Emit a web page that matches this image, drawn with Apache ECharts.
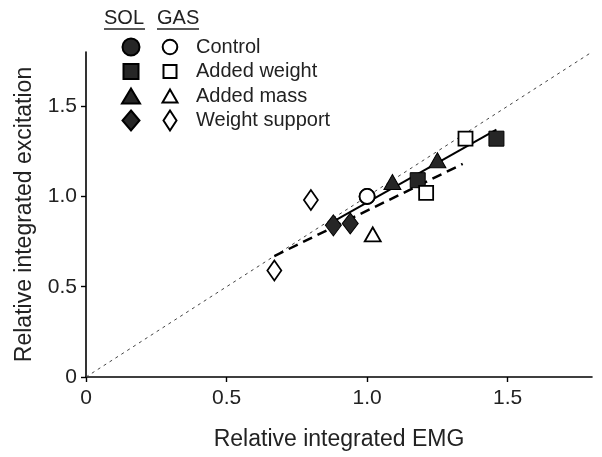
<!DOCTYPE html>
<html>
<head>
<meta charset="utf-8">
<script src="https://cdn.jsdelivr.net/npm/echarts@6/dist/echarts.min.js"></script>
<style>html,body{margin:0;padding:0;background:#fff}#c{width:602px;height:457px}</style>
</head>
<body>
<div id="c"></div>
<script>
// ---- data ----
var conditions = ['Control', 'Added weight', 'Added mass', 'Weight support'];
var solControl = [[1.00, 1.00]];
var solAddedWeight = [[1.18, 1.09], [1.46, 1.32]];
var solAddedMass = [[1.09, 1.08], [1.25, 1.20]];
var solWeightSupport = [[0.88, 0.84], [0.94, 0.85]];
var gasControl = [[1.00, 1.00]];
var gasAddedWeight = [[1.21, 1.02], [1.35, 1.32]];
var gasAddedMass = [[1.02, 0.79]];
var gasWeightSupport = [[0.80, 0.98], [0.67, 0.59]];
var solFit = [[0.89, 0.87], [1.46, 1.37]];
var gasFit = [[0.67, 0.67], [1.34, 1.18]];
var identityLine = [[0, 0], [1.8, 1.8]];
var tickValues = [0, 0.5, 1.0, 1.5];

var FONT = 'Liberation Sans, Arial, sans-serif';
var DARK = '#262626';
// legend icons drawn in a padded 20x20 box so that each keeps its own size
var B = 'path://M0,0M20,20';
var solIcons = [
  B + 'M1.5,10A8.5,8.5,0,1,1,18.5,10A8.5,8.5,0,1,1,1.5,10Z',
  B + 'M2.5,2.5L17.5,2.5L17.5,17.5L2.5,17.5Z',
  B + 'M10,2.5L19,17.5L1,17.5Z',
  B + 'M10,0L18.5,10L10,20L1.5,10Z'
];
var gasIcons = [
  B + 'M2.7,10A7.3,7.3,0,1,1,17.3,10A7.3,7.3,0,1,1,2.7,10Z',
  B + 'M3.5,3.5L16.5,3.5L16.5,16.5L3.5,16.5Z',
  B + 'M10,3.5L17.5,16.5L2.5,16.5Z',
  B + 'M10,0L16.5,10L10,20L3.5,10Z'
];

function filled(name, data, symbol, size) {
  return {
    name: 'SOL ' + name, type: 'scatter', data: data, symbol: symbol, symbolSize: size, z: 3,
    itemStyle: { color: DARK, borderColor: '#000', borderWidth: 1, opacity: 1 }
  };
}
function open(name, data, symbol, size) {
  return {
    name: 'GAS ' + name, type: 'scatter', data: data, symbol: symbol, symbolSize: size, z: 4,
    itemStyle: { color: '#fff', borderColor: '#000', borderWidth: 1.8, opacity: 1 }
  };
}

var chart = echarts.init(document.getElementById('c'));
var axisCommon = {
  type: 'value', min: 0, max: 1.8, interval: 0.5,
  splitLine: { show: false },
  axisLine: { lineStyle: { color: '#000', width: 1.6 } },
  axisTick: { show: true, inside: false, length: 5, lineStyle: { color: '#000', width: 1.4 }, customValues: tickValues },
  axisLabel: { fontFamily: FONT, fontSize: 21, color: '#222', customValues: tickValues,
    formatter: function (v) { return v === 0 ? '0' : v.toFixed(1); } },
  nameLocation: 'middle',
  nameTextStyle: { fontFamily: FONT, fontSize: 23, color: '#222' }
};

var option = {
  animation: false,
  backgroundColor: '#fff',
  grid: { left: 86, right: 10, top: 52, bottom: 80 },
  xAxis: Object.assign({}, axisCommon, { name: 'Relative integrated EMG', nameGap: 51,
    axisLabel: Object.assign({}, axisCommon.axisLabel, { margin: 11 }) }),
  yAxis: Object.assign({}, axisCommon, { name: 'Relative integrated excitation', nameGap: 50,
    axisLabel: Object.assign({}, axisCommon.axisLabel, { margin: 9 }) }),
  legend: [
    {
      orient: 'vertical', left: 115, top: 31, itemWidth: 20, itemHeight: 20, itemGap: 2.5,
      selectedMode: false, formatter: function () { return ''; },
      textStyle: { fontFamily: FONT, fontSize: 20 },
      data: conditions.map(function (c, i) { return { name: 'SOL ' + c, icon: solIcons[i] }; })
    },
    {
      orient: 'vertical', left: 154, top: 31, itemWidth: 42, itemHeight: 20, itemGap: 2.5,
      selectedMode: false,
      formatter: function (n) { return n.replace('GAS ', ''); },
      textStyle: { fontFamily: FONT, fontSize: 20, color: '#222' },
      data: conditions.map(function (c, i) { return { name: 'GAS ' + c, icon: gasIcons[i] }; })
    }
  ],
  graphic: [
    { type: 'text', left: 104, top: 8, style: { text: 'SOL', fontFamily: FONT, fontSize: 20, fill: '#222' } },
    { type: 'line', shape: { x1: 104, y1: 29, x2: 145, y2: 29 }, style: { stroke: '#222', lineWidth: 1.4 } },
    { type: 'text', left: 157, top: 8, style: { text: 'GAS', fontFamily: FONT, fontSize: 20, fill: '#222' } },
    { type: 'line', shape: { x1: 157, y1: 29, x2: 199, y2: 29 }, style: { stroke: '#222', lineWidth: 1.4 } }
  ],
  series: [
    { name: 'identity', type: 'line', data: identityLine, symbol: 'none', z: 1, silent: true,
      lineStyle: { color: '#444', width: 1, type: [3, 4] } },
    { name: 'SOL fit', type: 'line', data: solFit, symbol: 'none', z: 2,
      lineStyle: { color: '#000', width: 2 } },
    { name: 'GAS fit', type: 'line', data: gasFit, symbol: 'none', z: 2,
      lineStyle: { color: '#000', width: 2.5, type: [10, 6] } },
    filled(conditions[0], solControl, 'circle', 16),
    filled(conditions[1], solAddedWeight, 'rect', 15),
    filled(conditions[2], solAddedMass, 'triangle', [17, 15]),
    filled(conditions[3], solWeightSupport, 'diamond', [16, 21]),
    open(conditions[0], gasControl, 'circle', 15),
    open(conditions[1], gasAddedWeight, 'rect', 14),
    open(conditions[2], gasAddedMass, 'triangle', [16, 14]),
    open(conditions[3], gasWeightSupport, 'diamond', [14, 20])
  ]
};
chart.setOption(option);
</script>
</body>
</html>
